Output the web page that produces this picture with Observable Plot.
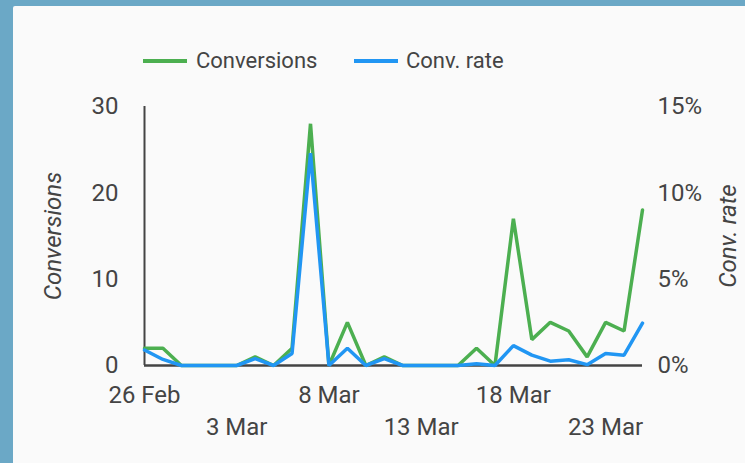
<!DOCTYPE html>
<html>
<head>
<meta charset="utf-8">
<script src="https://cdn.jsdelivr.net/npm/d3@7"></script>
<script src="https://cdn.jsdelivr.net/npm/@observablehq/plot@0.6"></script>
<style>
  html, body { margin: 0; padding: 0; }
  body { width: 745px; height: 463px; background: #6ba8c6; position: relative; overflow: hidden; font-family: Roboto, sans-serif; }
  #card { position: absolute; left: 13px; top: 6px; width: 732px; height: 457px; background: #fafafa; border-top-left-radius: 2px; }
  #legend { position: absolute; left: 0; top: 46px; width: 745px; height: 30px; font-size: 22px; color: #444; }
  .item { position: absolute; top: 0; height: 30px; line-height: 30px; }
  .sw { position: absolute; top: 13px; width: 44px; height: 4px; }
  #chart { position: absolute; left: 0; top: 0; }
  #chart svg { background: transparent; }
</style>
</head>
<body>
<div id="card"></div>
<div id="legend"></div>
<div id="chart"></div>
<script>
const dates = ["2023-02-26","2023-02-27","2023-02-28","2023-03-01","2023-03-02","2023-03-03","2023-03-04",
  "2023-03-05","2023-03-06","2023-03-07","2023-03-08","2023-03-09","2023-03-10","2023-03-11",
  "2023-03-12","2023-03-13","2023-03-14","2023-03-15","2023-03-16","2023-03-17","2023-03-18",
  "2023-03-19","2023-03-20","2023-03-21","2023-03-22","2023-03-23","2023-03-24","2023-03-25"];
const conversions = [2,2,0,0,0,0,1,0,2,28,0,5,0,1,0,0,0,0,2,0,17,3,5,4,1,5,4,18];
const convRate = [0.9,0.35,0,0,0,0,0.4,0,0.7,12.3,0,1.0,0,0.4,0,0,0,0,0.1,0,1.15,0.6,0.25,0.33,0.05,0.7,0.6,2.45]; // percent
const tickDates = ["2023-02-26","2023-03-03","2023-03-08","2023-03-13","2023-03-18","2023-03-23"];
const leftTicks = [0,10,20,30];
const rightTicks = [0,5,10,15]; // percent
const seriesNames = ["Conversions","Conv. rate"];
const colors = ["#4caf50","#2196f3"];

const parse = d3.utcParse("%Y-%m-%d");
const rows = dates.map((d,i) => ({date: parse(d), conv: conversions[i], rate: convRate[i]}));
const ticks = tickDates.map(parse);
const fmt = d3.utcFormat("%-d %b");
const ink = "#444";

// Legend
const legend = document.getElementById("legend");
[[143,196],[354,406]].forEach(([sx,tx],k) => {
  const s = document.createElement("div"); s.className = "sw"; s.style.left = sx+"px"; s.style.background = colors[k];
  const t = document.createElement("div"); t.className = "item"; t.style.left = tx+"px"; t.textContent = seriesNames[k];
  legend.appendChild(s); legend.appendChild(t);
});

const chart = Plot.plot({
  width: 745,
  height: 463,
  marginLeft: 144,
  marginRight: 103,
  marginTop: 106,
  marginBottom: 98,
  style: {fontFamily: "Roboto, sans-serif", fontSize: "24px", color: ink, background: "transparent", overflow: "visible"},
  x: {type: "utc", domain: [rows[0].date, rows[rows.length-1].date]},
  y: {domain: [0,30]},
  marks: [
    Plot.axisX({ticks: ticks.filter((d,i)=>i%2===0), tickSize: 0, tickPadding: 20, tickFormat: fmt, label: null, fill: ink, fontSize: 24}),
    Plot.axisX({ticks: ticks.filter((d,i)=>i%2===1), tickSize: 0, tickPadding: 52, tickFormat: fmt, label: null, fill: ink, fontSize: 24}),
    Plot.axisY({ticks: leftTicks, tickSize: 0, tickPadding: 26, label: null, fill: ink, fontSize: 24}),
    Plot.axisY({anchor: "right", ticks: rightTicks.map(v=>v*2), tickSize: 0, tickPadding: 15, tickFormat: d => (d/2)+"%", label: null, fill: ink, textAnchor: "start", fontSize: 24}),
    Plot.ruleY([0], {stroke: ink, strokeWidth: 2.5}),
    Plot.ruleX([rows[0].date], {y1: 0, y2: 30, stroke: ink, strokeWidth: 2}),
    Plot.lineY(rows, {x: "date", y: "conv", stroke: colors[0], strokeWidth: 3.5, strokeLinejoin: "miter"}),
    Plot.lineY(rows, {x: "date", y: d => d.rate*2, stroke: colors[1], strokeWidth: 3.5, strokeLinejoin: "miter"}),
    Plot.text([seriesNames[0]], {frameAnchor: "left", dx: -91, rotate: -90, fontStyle: "italic", fill: ink, fontSize: 24, lineAnchor: "middle", textAnchor: "middle"}),
    Plot.text([seriesNames[1]], {frameAnchor: "right", dx: 86, rotate: -90, fontStyle: "italic", fill: ink, fontSize: 24, lineAnchor: "middle", textAnchor: "middle"})
  ]
});
document.getElementById("chart").appendChild(chart);
</script>
</body>
</html>
